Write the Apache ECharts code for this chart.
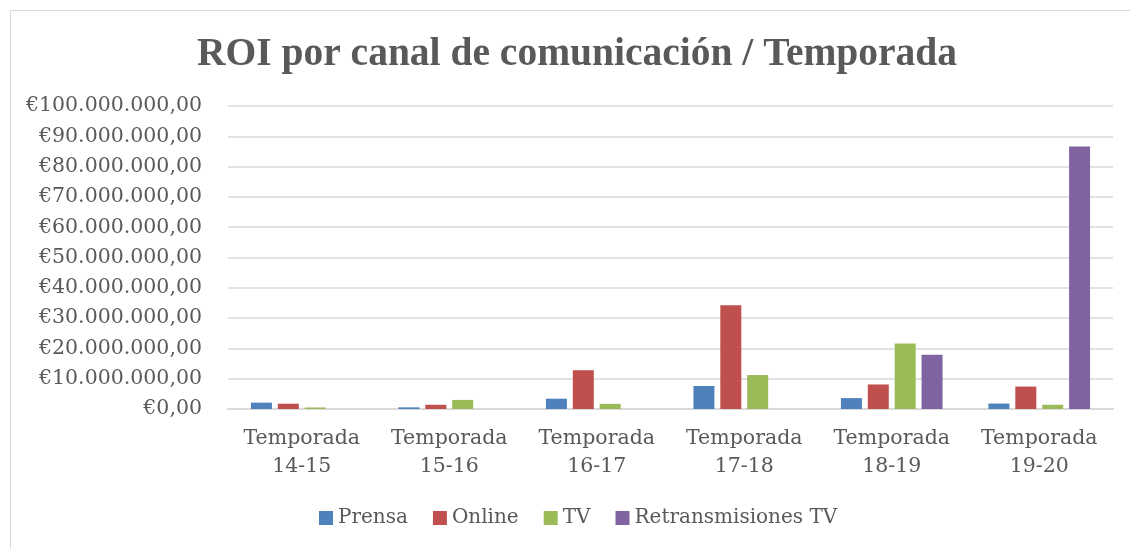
<!DOCTYPE html>
<html>
<head>
<meta charset="utf-8">
<script src="https://cdn.jsdelivr.net/npm/echarts@6/dist/echarts.min.js"></script>
<style>
  html, body { margin: 0; padding: 0; background: #fff; }
  #main { width: 1130px; height: 549px; }
</style>
</head>
<body>
<div id="main"></div>
<script>
var temporadas = ['Temporada\n14-15', 'Temporada\n15-16', 'Temporada\n16-17', 'Temporada\n17-18', 'Temporada\n18-19', 'Temporada\n19-20'];
var prensa = [2100000, 550000, 3400000, 7600000, 3600000, 1800000];
var online = [1750000, 1400000, 12800000, 34200000, 8100000, 7400000];
var tv = [500000, 3000000, 1700000, 11200000, 21600000, 1400000];
var retransmisiones = [0, 0, 0, 0, 17900000, 86600000];

var fuente = 'DejaVu Serif';
var fuenteTitulo = 'Liberation Serif';

function euro(v) {
    var s = Math.round(v).toString().replace(/\B(?=(\d{3})+(?!\d))/g, '.');
    return '€' + s + ',00';
}

var myChart = echarts.init(document.getElementById('main'));

var option = {
    animation: false,
    color: ['#4F81BD', '#C0504D', '#9BBB59', '#8064A2'],
    textStyle: { fontFamily: fuente },
    graphic: [{
        type: 'rect',
        shape: { x: 10.5, y: 10.5, width: 1130, height: 560 },
        style: { fill: 'none', stroke: '#d9d9d9', lineWidth: 1 }
    }],
    title: {
        text: 'ROI por canal de comunicación / Temporada',
        left: 192,
        top: 30,
        textStyle: { fontFamily: fuenteTitulo, fontSize: 39.5, fontWeight: 'bold', color: '#595959' }
    },
    legend: {
        bottom: 16,
        left: 314,
        itemWidth: 14,
        itemHeight: 14,
        itemGap: 25,
        icon: 'rect',
        textStyle: { fontFamily: fuente, fontSize: 20, color: '#595959' },
        data: ['Prensa', 'Online', 'TV', 'Retransmisiones TV']
    },
    grid: { left: 228, right: 17, top: 106, bottom: 140 },
    xAxis: {
        type: 'category',
        data: temporadas,
        axisLine: { lineStyle: { color: '#d9d9d9', width: 2 } },
        axisTick: { show: false },
        axisLabel: { interval: 0, hideOverlap: false, fontFamily: fuente, fontSize: 20.5, color: '#595959', margin: 16, lineHeight: 28 }
    },
    yAxis: {
        type: 'value',
        min: 0,
        max: 100000000,
        interval: 10000000,
        axisLine: { show: false },
        axisTick: { show: false },
        splitLine: { lineStyle: { color: '#d9d9d9', width: 1.5 } },
        axisLabel: { fontFamily: fuente, fontSize: 20.5, color: '#595959', margin: 26, formatter: euro }
    },
    series: [
        { name: 'Prensa', type: 'bar', data: prensa, barWidth: 21, barGap: '28%' },
        { name: 'Online', type: 'bar', data: online, barWidth: 21, barGap: '28%' },
        { name: 'TV', type: 'bar', data: tv, barWidth: 21, barGap: '28%' },
        { name: 'Retransmisiones TV', type: 'bar', data: retransmisiones, barWidth: 21, barGap: '28%' }
    ]
};
myChart.setOption(option);
</script>
</body>
</html>
